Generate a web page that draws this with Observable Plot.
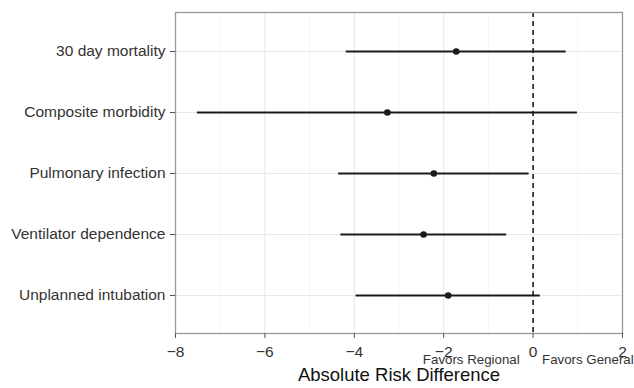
<!DOCTYPE html>
<html>
<head>
<meta charset="utf-8">
<script src="https://cdn.jsdelivr.net/npm/d3@7"></script>
<script src="https://cdn.jsdelivr.net/npm/@observablehq/plot@0.6"></script>
<style>
  html, body { margin: 0; padding: 0; background: #fff; }
  #chart svg { display: block; overflow: visible; }
</style>
</head>
<body>
<div id="chart"></div>
<script>
const outcomes = ["30 day mortality", "Composite morbidity", "Pulmonary infection", "Ventilator dependence", "Unplanned intubation"];
const estimates = [-1.72, -3.26, -2.22, -2.45, -1.90];
const lower = [-4.18, -7.51, -4.35, -4.30, -3.96];
const upper = [0.74, 0.99, -0.09, -0.59, 0.16];
const majorTicks = [-8, -6, -4, -2, 0, 2];
const minorTicks = [-7, -5, -3, -1, 1];
const xDomain = [-8, 2];
const refLine = [0];
const regionalLabel = [{x: -0.3, label: "Favors Regional"}];
const generalLabel = [{x: 0.2, label: "Favors General"}];
const xTitle = "Absolute Risk Difference";

const data = outcomes.map((o, i) => ({outcome: o, est: estimates[i], lo: lower[i], hi: upper[i]}));

const font = "'Liberation Sans', Arial, Helvetica, sans-serif";

const chart = Plot.plot({
  width: 634,
  height: 388,
  marginLeft: 175,
  marginRight: 12,
  marginTop: 12,
  marginBottom: 55,
  style: {fontFamily: font, background: "#fff", color: "#333"},
  x: {domain: xDomain, label: null},
  y: {type: "point", domain: outcomes, padding: 0.59, label: null},
  marks: [
    Plot.ruleX(minorTicks, {stroke: "#f2f2f2", strokeWidth: 0.7, strokeOpacity: 1}),
    Plot.ruleX(majorTicks, {stroke: "#e8e8e8", strokeWidth: 1.1, strokeOpacity: 1}),
    Plot.ruleY(outcomes, {y: d => d, stroke: "#e8e8e8", strokeWidth: 1.1, strokeOpacity: 1}),
    Plot.ruleX(refLine, {stroke: "#000", strokeWidth: 1.4, strokeDasharray: "5,4"}),
    Plot.ruleY(data, {y: "outcome", x1: "lo", x2: "hi", stroke: "#1a1a1a", strokeWidth: 1.8}),
    Plot.dot(data, {x: "est", y: "outcome", r: 3.3, fill: "#1a1a1a", stroke: null}),
    Plot.frame({stroke: "#999", strokeWidth: 1.3}),
    Plot.axisY({tickSize: 5, tickPadding: 5, fontSize: 15.5, stroke: "#555", fill: "#333"}),
    Plot.axisX({ticks: majorTicks, tickSize: 5, tickPadding: 7, fontSize: 15.5, tickFormat: d3.format("d"), stroke: "#555", fill: "#333", label: null}),
    Plot.text(regionalLabel, {x: "x", text: "label", textAnchor: "end", frameAnchor: "bottom", dy: 30, fontSize: 13.3, fill: "#333"}),
    Plot.text(generalLabel, {x: "x", text: "label", textAnchor: "start", frameAnchor: "bottom", dy: 30, fontSize: 13.3, fill: "#333"}),
    Plot.text([xTitle], {text: d => d, frameAnchor: "bottom", dy: 47.5, fontSize: 18.5, fill: "#111"})
  ]
});

document.getElementById("chart").appendChild(chart);
</script>
</body>
</html>
